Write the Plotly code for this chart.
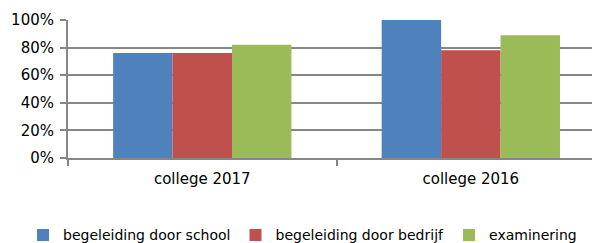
import plotly.graph_objects as go

categories = ["college 2017", "college 2016"]
series_names = ["begeleiding door school", "begeleiding door bedrijf", "examinering"]
school = [0.76, 1.00]
bedrijf = [0.76, 0.78]
examinering = [0.82, 0.89]
colors = ["#4F81BD", "#C0504D", "#9BBB59"]
y_ticks = [0, 0.2, 0.4, 0.6, 0.8, 1.0]

fig = go.Figure()
for name, vals, col in zip(series_names, [school, bedrijf, examinering], colors):
    fig.add_trace(go.Bar(x=categories, y=vals, name=name, marker=dict(color=col, line=dict(width=0))))

font = dict(family="DejaVu Sans", size=15, color="#000000")
lfont = dict(family="DejaVu Sans", size=14, color="#000000")
fig.update_layout(
    width=592, height=235,
    margin=dict(l=60, r=0, t=12, b=85, autoexpand=False),
    paper_bgcolor="white", plot_bgcolor="white",
    barmode="group", bargap=0.336, bargroupgap=0,
    font=font,
    showlegend=True,
    legend=dict(orientation="h", x=-0.0846, xanchor="left",
                y=-0.56, yanchor="middle", font=lfont, itemwidth=30, tracegroupgap=0,
                bgcolor="rgba(0,0,0,0)"),
    xaxis=dict(type="category", range=[-0.5, 1.481], showline=True, linecolor="#868686", linewidth=2,
               ticks="outside", tickson="boundaries", ticklen=6, tickcolor="#868686", tickwidth=2,
               showgrid=False, ticklabelstandoff=6, automargin=False),
    yaxis=dict(range=[0, 1], tickvals=y_ticks, tickformat=".0%", showline=True, linecolor="#868686",
               linewidth=2, ticks="outside", ticklen=6, tickcolor="#868686", tickwidth=2,
               showgrid=True, gridcolor="#868686", gridwidth=1.5, zeroline=False,
               ticklabelstandoff=3, automargin=False),
)
fig.write_html("out.html")
